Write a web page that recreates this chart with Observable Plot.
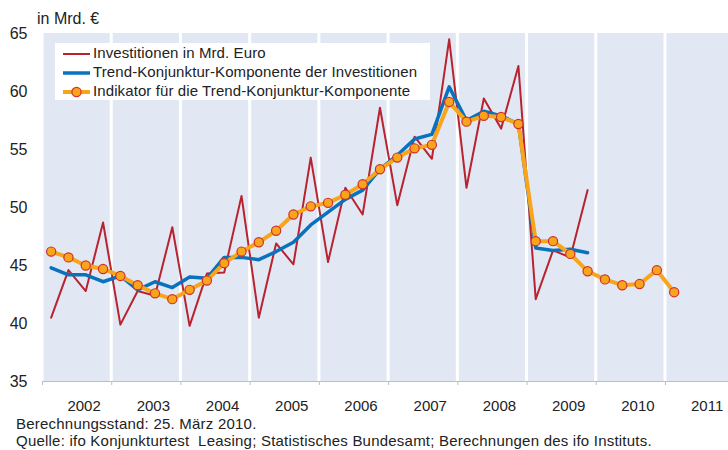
<!DOCTYPE html>
<html><head><meta charset="utf-8">
<script src="https://cdn.jsdelivr.net/npm/d3@7"></script>
<script src="https://cdn.jsdelivr.net/npm/@observablehq/plot@0.6"></script>
<style>
body{margin:0;background:#fff;font-family:Arial,"Liberation Sans",sans-serif;color:#222}
#wrap{position:relative;width:728px;height:450px;overflow:hidden}
#chart{position:absolute;left:0;top:0}
#ylab{position:absolute;left:37px;top:9px;font-size:16px;line-height:20px}
#legend{position:absolute;left:55px;top:43px;width:375px;height:57px;background:#fff;font-size:15px}
#legend .row{position:absolute;left:8px;height:19px;line-height:19px;white-space:nowrap;letter-spacing:0.1px}
#legend svg{vertical-align:middle;margin-right:3px}
#foot{position:absolute;left:16px;top:415px;font-size:15px;line-height:17px;white-space:nowrap;letter-spacing:0.22px}
</style></head><body>
<div id="wrap">
<div id="chart"></div>
<div id="ylab">in Mrd. €</div>
<div id="legend"></div>
<div id="foot"><div>Berechnungsstand: 25. März 2010.</div><div>Quelle: ifo Konjunkturtest &nbsp;Leasing; Statistisches Bundesamt; Berechnungen des ifo Instituts.</div></div>
</div>
<script>
const years = [2002, 2003, 2004, 2005, 2006, 2007, 2008, 2009, 2010, 2011];
const yearLabels = ["2002", "2003", "2004", "2005", "2006", "2007", "2008", "2009", "2010", "2011"];
const yTicks = [35, 40, 45, 50, 55, 60, 65];
// quarterly values starting 2002 Q1
const investitionen = [
  40.5, 44.6, 42.8, 48.7,
  39.9, 42.8, 42.4, 48.3,
  39.8, 44.3, 44.4, 51.0,
  40.5, 46.9, 45.1, 54.3,
  45.3, 51.7, 49.4, 58.6,
  50.2, 56.1, 54.2, 64.5,
  51.7, 59.4, 56.8, 62.2,
  42.1, 46.3, 45.7, 51.5
];
const trend = [
  44.8, 44.2, 44.2, 43.6,
  44.1, 42.9, 43.6, 43.1,
  44.0, 43.9, 45.7, 45.7,
  45.5, 46.2, 47.0, 48.5,
  49.6, 50.7, 51.5, 53.3,
  54.5, 55.9, 56.3, 60.4,
  57.5, 58.3, 57.9, 57.2,
  46.5, 46.3, 46.4, 46.1
];
const indikator = [
  46.2, 45.7, 45.0, 44.7,
  44.1, 43.3, 42.6, 42.1,
  42.9, 43.7, 45.2, 46.2,
  47.0, 48.0, 49.4, 50.1,
  50.4, 51.1, 52.0, 53.3,
  54.3, 55.1, 55.4, 59.1,
  57.4, 57.9, 57.8, 57.2,
  47.1, 47.1, 46.0, 44.5,
  43.8, 43.3, 43.4, 44.6,
  42.7
];
const seriesNames = ["Investitionen in Mrd. Euro", "Trend-Konjunktur-Komponente der Investitionen", "Indikator für die Trend-Konjunktur-Komponente"];
const colors = {red: "#B8232F", blue: "#0A72BC", orange: "#F8A51C", bg: "#E1E8F4", axis: "#A9C2E1"};

const qx = (i) => 2002 + (i + 0.5) / 4;
const toRows = (arr) => arr.map((v, i) => ({t: qx(i), v}));

const chart = Plot.plot({
  width: 728, height: 450,
  marginLeft: 42, marginRight: 0, marginTop: 33, marginBottom: 69,
  style: {fontFamily: "Arial, 'Liberation Sans', sans-serif", color: "#222", background: "#fff", overflow: "visible"},
  x: {domain: [2002, 2011.91]},
  y: {domain: [35, 65]},
  marks: [
    Plot.rect(years, {x1: d => d, x2: d => d + 1, y1: 35, y2: 65, fill: colors.bg, insetLeft: 1.5, insetRight: 1.5, clip: true}),
    Plot.ruleY([35], {stroke: colors.axis, strokeWidth: 1}),
    Plot.axisX({ticks: years, tickSize: 4, tickFormat: () => "", stroke: colors.axis, label: null}),
    Plot.axisX({ticks: years.map(d => d + 0.5), tickSize: 0, tickPadding: 19, tickFormat: (d) => yearLabels[Math.round(d - 0.5) - 2002], dx: 7, fontSize: 15, fill: "#222", label: null}),
    Plot.axisY({ticks: yTicks, tickSize: 0, tickPadding: 15, fontSize: 16, fill: "#222", label: null}),
    Plot.line(toRows(investitionen), {x: "t", y: "v", stroke: colors.red, strokeWidth: 2}),
    Plot.line(toRows(trend), {x: "t", y: "v", stroke: colors.blue, strokeWidth: 3.5}),
    Plot.line(toRows(indikator), {x: "t", y: "v", stroke: colors.orange, strokeWidth: 4}),
    Plot.dot(toRows(indikator), {x: "t", y: "v", r: 4.6, fill: colors.orange, stroke: "#D0312D", strokeWidth: 1.2})
  ]
});
document.getElementById("chart").appendChild(chart);

// legend
const leg = document.getElementById("legend");
const sample = [
  `<svg width="27" height="12"><line x1="0" x2="27" y1="6" y2="6" stroke="${colors.red}" stroke-width="2"/></svg>`,
  `<svg width="27" height="12"><line x1="0" x2="27" y1="6" y2="6" stroke="${colors.blue}" stroke-width="3.5"/></svg>`,
  `<svg width="27" height="12"><line x1="0" x2="27" y1="6" y2="6" stroke="${colors.orange}" stroke-width="4"/><circle cx="13.5" cy="6" r="4.6" fill="${colors.orange}" stroke="#D0312D" stroke-width="1.2"/></svg>`
];
seriesNames.forEach((name, i) => {
  const row = document.createElement("div");
  row.className = "row";
  row.style.top = (0 + i * 19) + "px";
  row.innerHTML = sample[i] + name;
  leg.appendChild(row);
});
</script>
</body></html>
